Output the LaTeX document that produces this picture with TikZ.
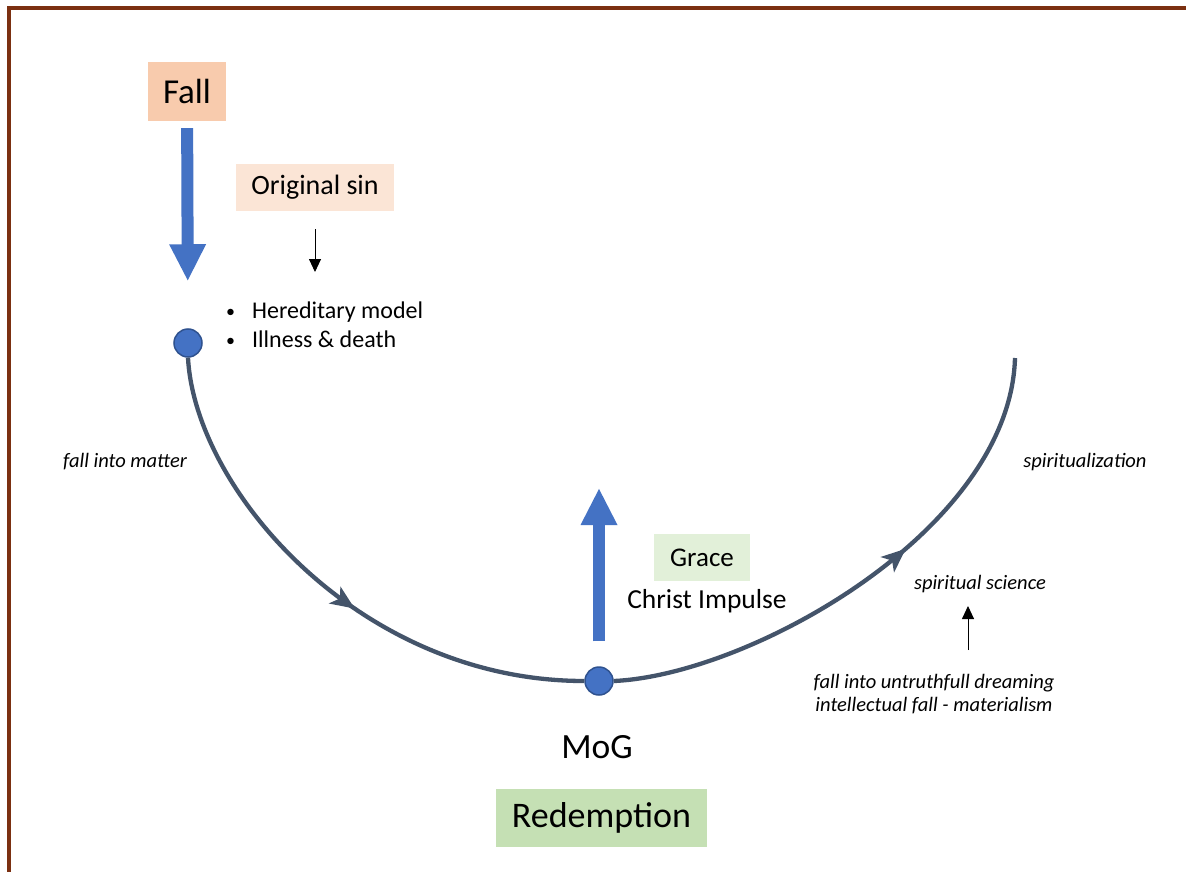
\documentclass[tikz,border=0pt]{standalone}
\usepackage{fontspec}
\setmainfont{Carlito}
\usetikzlibrary{arrows.meta,decorations.markings}
\definecolor{framebrown}{HTML}{7B3011}
\definecolor{fallfill}{HTML}{F8CBAD}
\definecolor{origfill}{HTML}{FBE5D6}
\definecolor{gracefill}{HTML}{E2F0D9}
\definecolor{redfill}{HTML}{C5E0B4}
\definecolor{mblue}{HTML}{4472C4}
\definecolor{dblue}{HTML}{2F528F}
\definecolor{curvecol}{HTML}{44546A}
\tikzset{
  fs/.style={font=\fontsize{#1}{#1}\selectfont},
  boxlbl/.style={inner sep=0pt, text=black},
  dot/.style={circle, fill=mblue, draw=dblue, line width=1.5pt, minimum size=28pt, inner sep=0pt},
  bigarrow/.style={draw=mblue, line width=12pt, -{Triangle[width=34pt,length=37pt]}},
  thinarrow/.style={draw=black, line width=0.9pt, -{Triangle[width=12pt,length=13pt]}},
  pathcurve/.style={draw=curvecol, line width=4.3pt,
    postaction={decorate},
    decoration={markings, mark=at position #1 with {\arrow[curvecol]{Stealth[length=24pt,width=20pt,inset=6pt]}}}},
  itl/.style={font=\fontsize{20.5}{23}\selectfont\itshape, inner sep=0pt, align=center},
}
\begin{document}
\begin{tikzpicture}[x=1pt,y=-1pt]
\useasboundingbox (0,0) rectangle (1186,872);
\fill[white] (0,0) rectangle (1186,872);
\draw[framebrown, line width=4pt, line join=miter] (8.7,872) -- (8.7,8.5) -- (1186,8.5);

% boxes
\node[boxlbl, fill=fallfill, minimum width=78pt, minimum height=59pt, fs=35] (fall) at (187,91.5) {Fall};
\node[boxlbl, fill=origfill, minimum width=158pt, minimum height=47pt, fs=28] (orig) at (315,187.5) {Original sin};
\node[boxlbl, fill=gracefill, minimum width=96pt, minimum height=47pt, fs=27] (grace) at (702,557.5) {Grace};
\node[boxlbl, fs=27.5] (christ) at (707,601) {Christ Impulse};
\node[boxlbl, fill=redfill, minimum width=211pt, minimum height=58pt, fs=36] (redem) at (601.5,818) {Redemption};
\node[boxlbl, fs=35.5] (mog) at (597,747) {MoG};

% bullets
\node[boxlbl, anchor=north west, align=left, font=\fontsize{24}{29}\selectfont] (bul) at (226,302)
  {\raisebox{1pt}{\scalebox{0.75}{•}}\hspace{17pt}Hereditary model\\ \raisebox{1pt}{\scalebox{0.75}{•}}\hspace{17pt}Illness \& death};

% dots
\node[dot] (c1) at (188,343) {};
\node[dot] (c2) at (599,681) {};
\coordinate (cend) at (1015,358);

% curve
\draw[pathcurve=0.56] (c1.south) .. controls (195,490) and (360,681) .. (c2.west);
\draw[pathcurve=0.59] (c2.east) .. controls (750,675) and (1010,530) .. (cend);

% big arrows
\draw[bigarrow, shorten <=7pt, shorten >=47pt] (fall) -- (c1);
\coordinate (uptop) at (599,488);
\draw[bigarrow, shorten <=25pt] (c2) -- (uptop);

% italic labels
\node[itl] (fim) at (125,462) {fall into matter};
\node[itl] (spz) at (1085,462) {spiritualization};
\node[itl] (ssc) at (980,584) {spiritual science};
\node[itl] (fud) at (934,694.5) {fall into untruthfull dreaming\\intellectual fall - materialism};

% thin arrows
\coordinate (osend) at (315,272);
\draw[thinarrow, shorten <=18pt] (orig) -- (osend);
\coordinate (sa1) at (968,650);
\coordinate (sa2) at (968,606);
\draw[thinarrow] (sa1) -- (sa2);
\end{tikzpicture}
\end{document}
